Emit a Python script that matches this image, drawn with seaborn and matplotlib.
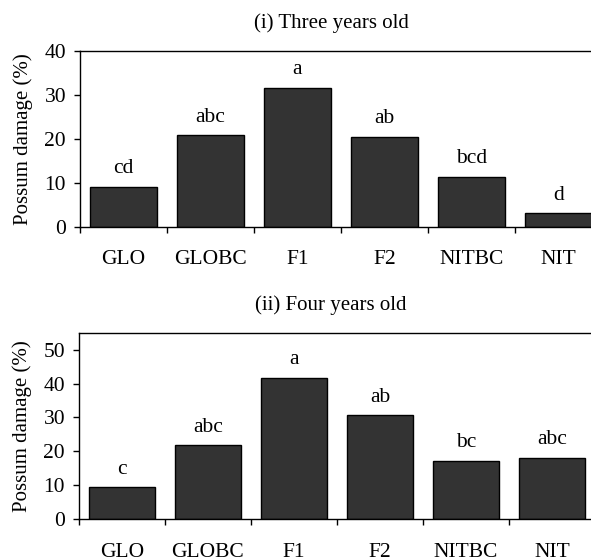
import matplotlib
matplotlib.use("Agg")
import matplotlib.pyplot as plt
import seaborn as sns
from matplotlib.ticker import FixedLocator, NullFormatter

categories = ["GLO", "GLOBC", "F1", "F2", "NITBC", "NIT"]
damage_3yr = [9.1, 20.8, 31.6, 20.5, 11.4, 3.1]
letters_3yr = ["cd", "abc", "a", "ab", "bcd", "d"]
damage_4yr = [9.4, 21.7, 41.7, 30.6, 17.2, 18.1]
letters_4yr = ["c", "abc", "a", "ab", "bc", "abc"]
titles = ["(i) Three years old", "(ii) Four years old"]
yticks_3yr = [0, 10, 20, 30, 40]
yticks_4yr = [0, 10, 20, 30, 40, 50]

sns.set_theme(style="ticks")
plt.rcParams["font.family"] = ["Liberation Serif", "DejaVu Serif"]
plt.rcParams["text.color"] = "black"
plt.rcParams["axes.labelcolor"] = "black"
plt.rcParams["xtick.color"] = "black"
plt.rcParams["ytick.color"] = "black"

W, H = 591, 557
fig = plt.figure(figsize=(W / 100, H / 100), dpi=100)

def px_axes(left, top, right, bottom):
    return fig.add_axes([left / W, 1 - bottom / H, (right - left) / W, (bottom - top) / H])

ax1 = px_axes(80, 50.7, 602, 226.7)
ax2 = px_axes(79, 332.7, 595, 519)

panels = [
    (ax1, damage_3yr, letters_3yr, yticks_3yr, 40, titles[0], 23),
    (ax2, damage_4yr, letters_4yr, yticks_4yr, 55, titles[1], 305),
]

FS = 15.5

for ax, vals, lets, yt, ytop, title, ty in panels:
    sns.barplot(x=categories, y=vals, order=categories, color="#333333",
                saturation=1, edgecolor="black", linewidth=1.0, width=0.77, ax=ax)
    ax.set_ylim(0, ytop)
    ax.set_xlim(-0.5, len(categories) - 0.5)
    ax.set_yticks(yt)
    ax.set_yticklabels([str(v) for v in yt], fontsize=FS)
    ax.tick_params(axis="y", direction="out", length=4, width=1, pad=6)
    # boundary ticks (major) and centred labels (minor)
    bounds = [i - 0.5 for i in range(len(categories))]
    ax.xaxis.set_major_locator(FixedLocator(bounds))
    ax.xaxis.set_major_formatter(NullFormatter())
    ax.set_xticks(list(range(len(categories))), minor=True)
    ax.set_xticklabels(categories, minor=True, fontsize=FS)
    ax.tick_params(axis="x", which="major", direction="out", length=4, width=1)
    ax.tick_params(axis="x", which="minor", length=0, pad=17)
    ax.set_xlabel("")
    ax.set_ylabel("Possum damage (%)", fontsize=15, labelpad=8)
    for s in ax.spines.values():
        s.set_color("black")
        s.set_linewidth(1.0)
    for i, (v, l) in enumerate(zip(vals, lets)):
        ax.annotate(l, xy=(i, v), xytext=(0, 6), textcoords="offset points",
                    ha="center", va="bottom", fontsize=FS)
    fig.text(331 / W, 1 - ty / H, title, ha="center", va="center", fontsize=15)

fig.savefig("out.png", dpi=100, facecolor="white")
